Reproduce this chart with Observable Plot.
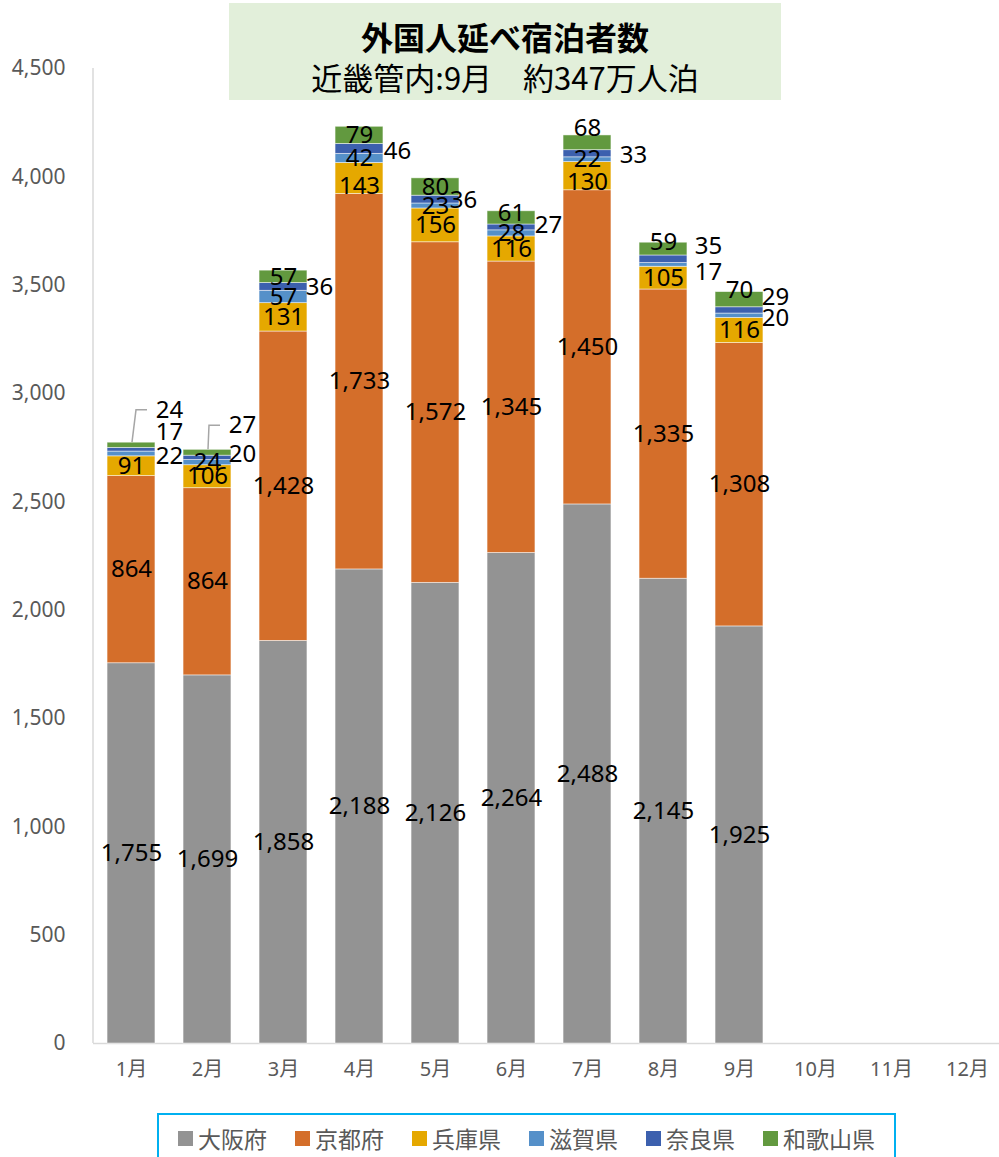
<!DOCTYPE html>
<html>
<head>
<meta charset="utf-8">
<script src="https://cdn.jsdelivr.net/npm/d3@7"></script>
<script src="https://cdn.jsdelivr.net/npm/@observablehq/plot@0.6"></script>
<style>
  body { margin: 0; background: #fff; }
  #wrap { position: relative; width: 999px; height: 1157px; overflow: hidden; font-family: "Noto Sans CJK JP", "Noto Sans", sans-serif; }
  #chart { position: absolute; left: 0; top: 0; width: 1006px; }
  #chart svg { max-width: none !important; }
  #title { position: absolute; left: 229px; top: 3px; width: 552px; height: 97px; background: #E2EFDA; text-align: center; color: #000; }
  #title .t1 { position: absolute; left: 0; right: 0; top: 11px; font-size: 32px; font-weight: bold; line-height: 44px; white-space: nowrap; }
  #title .t2 { position: absolute; left: 0; right: 0; top: 52px; font-size: 31px; line-height: 44px; white-space: nowrap; }
  #legend { position: absolute; left: 157px; top: 1113px; width: 739px; height: 70px; border: 2px solid #00B0F0; box-sizing: border-box; }
  #legend .items { display: flex; justify-content: center; align-items: center; height: 46px; gap: 28px; }
  #legend .item { display: flex; align-items: center; gap: 5px; font-size: 23px; color: #595959; }
  #legend .sw { width: 15px; height: 15px; display: inline-block; }
</style>
</head>
<body>
<div id="wrap">
  <div id="chart"></div>
  <div id="title"><div class="t1">外国人延べ宿泊者数</div><div class="t2">近畿管内:9月　約347万人泊</div></div>
  <div id="legend"><div class="items" id="legendItems"></div></div>
</div>
<script>
// ---- data ----
const months = ["1月","2月","3月","4月","5月","6月","7月","8月","9月","10月","11月","12月"];
const prefectures = ["大阪府","京都府","兵庫県","滋賀県","奈良県","和歌山県"];
const osaka    = [1755, 1699, 1858, 2188, 2126, 2264, 2488, 2145, 1925];
const kyoto    = [864, 864, 1428, 1733, 1572, 1345, 1450, 1335, 1308];
const hyogo    = [91, 106, 131, 143, 156, 116, 130, 105, 116];
const shiga    = [22, 24, 57, 42, 23, 28, 22, 17, 20];
const nara     = [17, 20, 36, 46, 36, 27, 33, 35, 29];
const wakayama = [24, 27, 57, 79, 80, 61, 68, 59, 70];
const yTicks   = [0, 500, 1000, 1500, 2000, 2500, 3000, 3500, 4000, 4500];

// ---- styles ----
const colors = ["#939393", "#D46E2A", "#E5A800", "#5590C9", "#3C60AE", "#62993F"];
// label offsets (px) for labels moved away from the segment centre
const placement = {
  "1月|和歌山県": [38, -35, true],
  "1月|奈良県": [38, -17],
  "1月|滋賀県": [38, 2],
  "2月|和歌山県": [35, -27, true],
  "2月|奈良県": [35, -4],
  "3月|奈良県": [36, 0],
  "4月|兵庫県": [0, 8],
  "4月|奈良県": [38, 2],
  "5月|奈良県": [28, 1],
  "6月|奈良県": [37, -2],
  "6月|和歌山県": [0, -5],
  "7月|兵庫県": [0, 6],
  "7月|奈良県": [46, 2],
  "7月|和歌山県": [0, -15],
  "8月|滋賀県": [45, 7],
  "8月|奈良県": [45, -13],
  "8月|和歌山県": [0, -7],
  "9月|滋賀県": [36, 3],
  "9月|奈良県": [36, -13],
  "9月|和歌山県": [0, -9]
};

const series = [osaka, kyoto, hyogo, shiga, nara, wakayama];
const rows = [];
const totals = {};
osaka.forEach((_, i) => {
  let cum = 0;
  series.forEach((vals, k) => {
    const v = vals[i];
    rows.push({month: months[i], pref: prefectures[k], value: v, y1: cum, y2: cum + v, mid: cum + v / 2, key: months[i] + "|" + prefectures[k]});
    cum += v;
  });
  totals[months[i]] = cum;
});

const fmt = d3.format(",");
const labelFont = 24;

const defaultRows = rows.filter(d => !placement[d.key]);
const textMarks = [Plot.text(defaultRows, {x: "month", y: "mid", text: d => fmt(d.value), fill: "#000", fontSize: labelFont})];
for (const [key, [dx, dy]] of Object.entries(placement)) {
  textMarks.push(Plot.text(rows.filter(d => d.key === key), {x: "month", y: "mid", text: d => fmt(d.value), fill: "#000", fontSize: labelFont, dx, dy}));
}

const leaderRows = rows.filter(d => placement[d.key] && placement[d.key][2]);

function leaderMark(index, scales, values, dims) {
  const g = d3.create("svg:g").attr("fill", "none").attr("stroke", "#A6A6A6").attr("stroke-width", 1.5);
  const bw = typeof scales.x.bandwidth === "function" ? scales.x.bandwidth() : 0;
  for (const d of leaderRows) {
    const [dx, dy] = placement[d.key];
    const cx = scales.x(d.month) + bw / 2;
    const y0 = scales.y(totals[d.month]);
    const ly = scales.y(d.mid) + dy;
    const left = cx + dx - 14;
    g.append("path").attr("d", `M${cx + 1},${y0}L${left - 19},${ly}L${left - 8},${ly}`);
  }
  return g.node();
}

function yAxisLine(index, scales, values, dims) {
  return d3.create("svg:line")
    .attr("x1", dims.marginLeft).attr("x2", dims.marginLeft)
    .attr("y1", dims.marginTop).attr("y2", dims.height - dims.marginBottom)
    .attr("stroke", "#D9D9D9").attr("stroke-width", 1.5).node();
}

const chart = Plot.plot({
  width: 1006,
  height: 1100,
  marginTop: 68,
  marginBottom: 57,
  marginLeft: 93,
  marginRight: 1,
  style: {fontFamily: "'Noto Sans', 'Noto Sans CJK JP', sans-serif", background: "transparent", maxWidth: "none"},
  x: {domain: months, paddingInner: 0.37, paddingOuter: 0.185, round: false, axis: null},
  y: {domain: [0, 4500], axis: null},
  color: {domain: prefectures, range: colors},
  marks: [
    yAxisLine,
    Plot.ruleY([0], {stroke: "#D9D9D9", strokeWidth: 1.5}),
    Plot.barY(rows, {x: "month", y1: "y1", y2: "y2", fill: "pref", stroke: "#fff", strokeWidth: 0.8, strokeOpacity: 0.6}),
    leaderMark,
    ...textMarks,
    Plot.text(yTicks, {y: d => d, text: d => fmt(d), frameAnchor: "left", dx: -28, textAnchor: "end", fill: "#595959", fontSize: 21}),
    Plot.text(months, {x: d => d, text: d => d, frameAnchor: "bottom", dy: 32, fill: "#595959", fontSize: 20})
  ]
});
document.getElementById("chart").appendChild(chart);

// legend
const li = document.getElementById("legendItems");
prefectures.forEach((p, k) => {
  const it = document.createElement("div");
  it.className = "item";
  const sw = document.createElement("span");
  sw.className = "sw";
  sw.style.background = colors[k];
  const tx = document.createElement("span");
  tx.textContent = p;
  it.appendChild(sw);
  it.appendChild(tx);
  li.appendChild(it);
});
</script>
</body>
</html>
